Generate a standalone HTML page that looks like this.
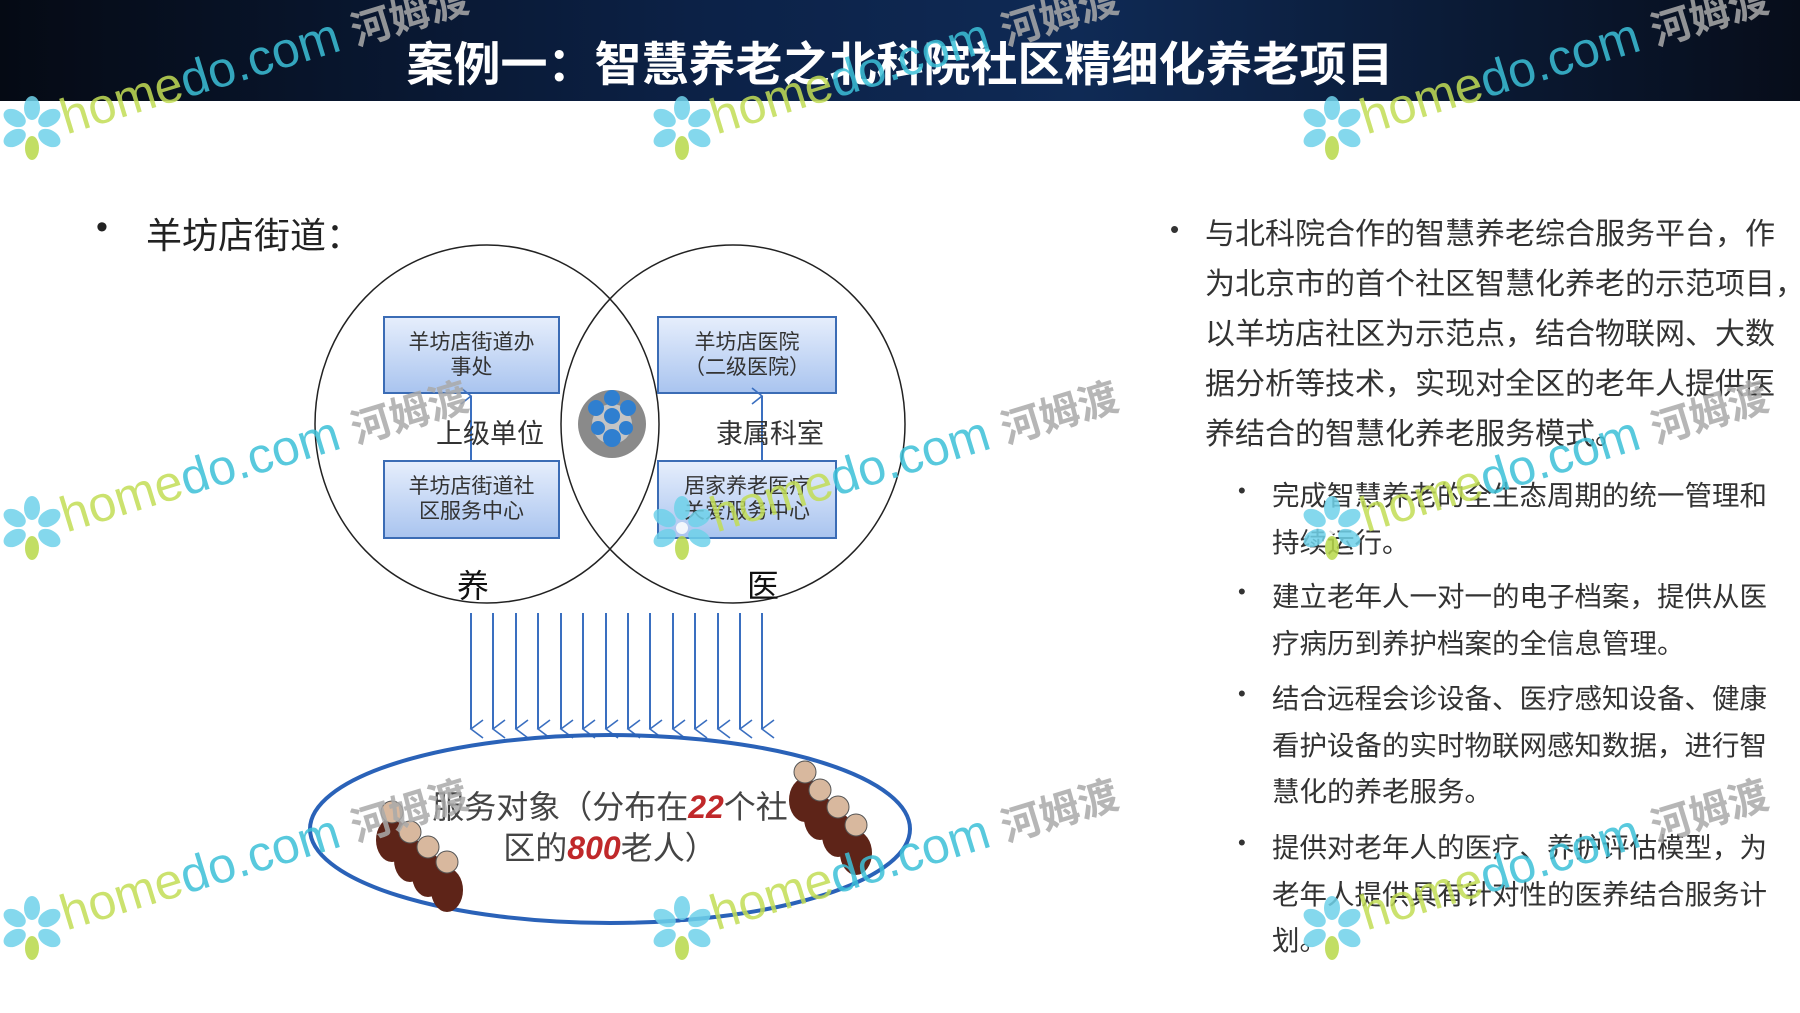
<!DOCTYPE html>
<html><head><meta charset="utf-8"><style>
body{margin:0;width:1800px;height:1013px;position:relative;overflow:hidden;background:#fff;font-family:"Liberation Sans","Noto Sans CJK SC",sans-serif;color:#333}
.a{position:absolute;white-space:nowrap}
.ban{position:absolute;left:0;top:0;width:1800px;height:101px;background:linear-gradient(90deg,#050a14 0%,#0c2248 40%,#0f2a55 60%,#070d1a 100%)}
.title{left:0;width:1800px;text-align:center;top:36px;font-size:47px;font-weight:bold;color:#fff;line-height:58px}
.p{font-size:30px;line-height:50px;color:#333}
.s{font-size:27.5px;line-height:46.5px;color:#333}
.bx{position:absolute;text-align:center;font-size:21px;line-height:25px;color:#333;white-space:nowrap}
.wm{position:absolute;font-size:50px;color:#c2dd55;transform:rotate(-17deg);transform-origin:left bottom;opacity:.85;white-space:nowrap}
.wm b{color:#3cc0d8;font-weight:normal}
.wm i{font-style:normal;color:#aaa;font-weight:bold;font-size:40px;margin-left:14px}
.fl{position:absolute;opacity:.85}
</style></head><body>
<div class="ban"></div>
<div class="a title">案例一：智慧养老之北科院社区精细化养老项目</div>

<div class="a" style="left:96px;top:208px;font-size:34px;color:#222">•</div>
<div class="a" style="left:146px;top:207px;font-size:36px;color:#222">羊坊店街道：</div>

<svg class="a" style="left:0;top:0" width="1800" height="1013">
<defs><marker id="ar" markerWidth="20" markerHeight="16" refX="10" refY="14" orient="auto" markerUnits="userSpaceOnUse"><path d="M1,2 L10,14 L19,2" fill="none" stroke="#3a6fc0" stroke-width="1.6"/></marker>
<marker id="ar2" markerWidth="20" markerHeight="16" refX="10" refY="14" orient="auto" markerUnits="userSpaceOnUse"><path d="M2,4 L10,14 L18,4" fill="none" stroke="#3a6fc0" stroke-width="1.6"/></marker>
<linearGradient id="bx" x1="0" y1="0" x2="0" y2="1"><stop offset="0" stop-color="#e6eefc"/><stop offset="1" stop-color="#a9c4ef"/></linearGradient></defs>
<ellipse cx="487" cy="424" rx="172" ry="179" fill="none" stroke="#222" stroke-width="1.5"/>
<ellipse cx="733" cy="424" rx="172" ry="179" fill="none" stroke="#222" stroke-width="1.5"/>
<rect x="384" y="317" width="175" height="76" fill="url(#bx)" stroke="#3b6cb5" stroke-width="2"/>
<rect x="384" y="461" width="175" height="77" fill="url(#bx)" stroke="#3b6cb5" stroke-width="2"/>
<rect x="658" y="317" width="178" height="76" fill="url(#bx)" stroke="#3b6cb5" stroke-width="2"/>
<rect x="658" y="461" width="178" height="77" fill="url(#bx)" stroke="#3b6cb5" stroke-width="2"/>
<line x1="471" y1="461" x2="471" y2="396" stroke="#3a6fc0" stroke-width="2" marker-end="url(#ar2)"/>
<line x1="762" y1="461" x2="762" y2="396" stroke="#3a6fc0" stroke-width="2" marker-end="url(#ar2)"/>
<g>
<circle cx="612" cy="424" r="34" fill="#8a8a8a"/><circle cx="612" cy="424" r="20" fill="#c4c4c4"/>
<g fill="#2f7fd0"><circle cx="612" cy="398" r="8"/><circle cx="596" cy="408" r="8"/><circle cx="628" cy="408" r="8"/><circle cx="612" cy="416" r="8"/><circle cx="598" cy="428" r="7"/><circle cx="626" cy="428" r="7"/><circle cx="612" cy="438" r="9"/></g>
</g>
<g stroke="#3a6fc0" stroke-width="2" marker-end="url(#ar)">
<line x1="471" y1="613" x2="471" y2="729"/><line x1="493" y1="613" x2="493" y2="729"/><line x1="516" y1="613" x2="516" y2="729"/><line x1="538" y1="613" x2="538" y2="729"/><line x1="561" y1="613" x2="561" y2="729"/><line x1="583" y1="613" x2="583" y2="729"/><line x1="606" y1="613" x2="606" y2="729"/><line x1="628" y1="613" x2="628" y2="729"/><line x1="650" y1="613" x2="650" y2="729"/><line x1="673" y1="613" x2="673" y2="729"/><line x1="695" y1="613" x2="695" y2="729"/><line x1="718" y1="613" x2="718" y2="729"/><line x1="740" y1="613" x2="740" y2="729"/><line x1="762" y1="613" x2="762" y2="729"/>
</g>
<ellipse cx="610" cy="829" rx="300" ry="94" fill="none" stroke="#2a62b8" stroke-width="4"/>
<g fill="#5e2418"><ellipse cx="392" cy="840" rx="16" ry="22"/><ellipse cx="410" cy="860" rx="16" ry="22"/><ellipse cx="428" cy="875" rx="16" ry="22"/><ellipse cx="447" cy="890" rx="16" ry="22"/>
<ellipse cx="805" cy="800" rx="16" ry="22"/><ellipse cx="820" cy="818" rx="16" ry="22"/><ellipse cx="838" cy="835" rx="16" ry="22"/><ellipse cx="856" cy="853" rx="16" ry="22"/></g>
<g fill="#d8b89e" stroke="#555" stroke-width="1"><circle cx="392" cy="812" r="11"/><circle cx="410" cy="832" r="11"/><circle cx="428" cy="847" r="11"/><circle cx="447" cy="862" r="11"/>
<circle cx="805" cy="772" r="11"/><circle cx="820" cy="790" r="11"/><circle cx="838" cy="807" r="11"/><circle cx="856" cy="825" r="11"/></g>
</svg>

<div class="bx" style="left:384px;top:330px;width:175px">羊坊店街道办<br>事处</div>
<div class="bx" style="left:384px;top:474px;width:175px">羊坊店街道社<br>区服务中心</div>
<div class="bx" style="left:658px;top:330px;width:178px">羊坊店医院<br>（二级医院）</div>
<div class="bx" style="left:658px;top:474px;width:178px">居家养老医疗<br>关爱服务中心</div>
<div class="a" style="left:436px;top:412px;font-size:27px;color:#333">上级单位</div>
<div class="a" style="left:716px;top:412px;font-size:27px;color:#333">隶属科室</div>
<div class="a" style="left:457px;top:561px;font-size:32px;color:#111">养</div>
<div class="a" style="left:747px;top:561px;font-size:32px;color:#111">医</div>
<div class="a" style="left:400px;top:787px;font-size:32px;color:#444;line-height:41px;text-align:center;width:420px;white-space:normal">服务对象（分布在<i style="color:#c0282a;font-weight:bold">22</i>个社<br>区的<i style="color:#c0282a;font-weight:bold">800</i>老人）</div>

<div class="a" style="left:1170px;top:214px;font-size:26px">•</div>
<div class="a p" style="left:1205px;top:210px">与北科院合作的智慧养老综合服务平台，作<br>为北京市的首个社区智慧化养老的示范项目，<br>以羊坊店社区为示范点，结合物联网、大数<br>据分析等技术，实现对全区的老年人提供医<br>养结合的智慧化养老服务模式。</div>
<div class="a" style="left:1238px;top:478px;font-size:22px">•</div>
<div class="a s" style="left:1272px;top:473px">完成智慧养老的全生态周期的统一管理和<br>持续运行。</div>
<div class="a" style="left:1238px;top:579px;font-size:22px">•</div>
<div class="a s" style="left:1272px;top:574px">建立老年人一对一的电子档案，提供从医<br>疗病历到养护档案的全信息管理。</div>
<div class="a" style="left:1238px;top:681px;font-size:22px">•</div>
<div class="a s" style="left:1272px;top:676px">结合远程会诊设备、医疗感知设备、健康<br>看护设备的实时物联网感知数据，进行智<br>慧化的养老服务。</div>
<div class="a" style="left:1238px;top:830px;font-size:22px">•</div>
<div class="a s" style="left:1272px;top:825px">提供对老年人的医疗、养护评估模型，为<br>老年人提供具有针对性的医养结合服务计<br>划。</div>

<svg width="0" height="0" style="position:absolute"><defs><g id="fw"><g fill="#6fd2ea"><ellipse cx="32" cy="12" rx="8" ry="12"/><ellipse cx="32" cy="12" rx="8" ry="12" transform="rotate(60 32 32)"/><ellipse cx="32" cy="12" rx="8" ry="12" transform="rotate(120 32 32)"/><ellipse cx="32" cy="12" rx="8" ry="12" transform="rotate(240 32 32)"/><ellipse cx="32" cy="12" rx="8" ry="12" transform="rotate(300 32 32)"/></g><ellipse cx="32" cy="12" rx="7" ry="12" fill="#b8d94a" transform="rotate(180 32 32)"/><circle cx="32" cy="32" r="6" fill="#fff"/></g></defs></svg>
<svg class="fl" style="left:0;top:96px" width="64" height="64"><use href="#fw"/></svg>
<svg class="fl" style="left:650px;top:96px" width="64" height="64"><use href="#fw"/></svg>
<svg class="fl" style="left:1300px;top:96px" width="64" height="64"><use href="#fw"/></svg>
<svg class="fl" style="left:0;top:496px" width="64" height="64"><use href="#fw"/></svg>
<svg class="fl" style="left:650px;top:496px" width="64" height="64"><use href="#fw"/></svg>
<svg class="fl" style="left:1300px;top:496px" width="64" height="64"><use href="#fw"/></svg>
<svg class="fl" style="left:0;top:896px" width="64" height="64"><use href="#fw"/></svg>
<svg class="fl" style="left:650px;top:896px" width="64" height="64"><use href="#fw"/></svg>
<svg class="fl" style="left:1300px;top:896px" width="64" height="64"><use href="#fw"/></svg>
<div class="wm" style="left:70px;top:88px">home<b>do.com</b><i>河姆渡</i></div>
<div class="wm" style="left:720px;top:88px">home<b>do.com</b><i>河姆渡</i></div>
<div class="wm" style="left:1370px;top:88px">home<b>do.com</b><i>河姆渡</i></div>
<div class="wm" style="left:70px;top:486px">home<b>do.com</b><i>河姆渡</i></div>
<div class="wm" style="left:720px;top:486px">home<b>do.com</b><i>河姆渡</i></div>
<div class="wm" style="left:1370px;top:486px">home<b>do.com</b><i>河姆渡</i></div>
<div class="wm" style="left:70px;top:884px">home<b>do.com</b><i>河姆渡</i></div>
<div class="wm" style="left:720px;top:884px">home<b>do.com</b><i>河姆渡</i></div>
<div class="wm" style="left:1370px;top:884px">home<b>do.com</b><i>河姆渡</i></div>
</body></html>
